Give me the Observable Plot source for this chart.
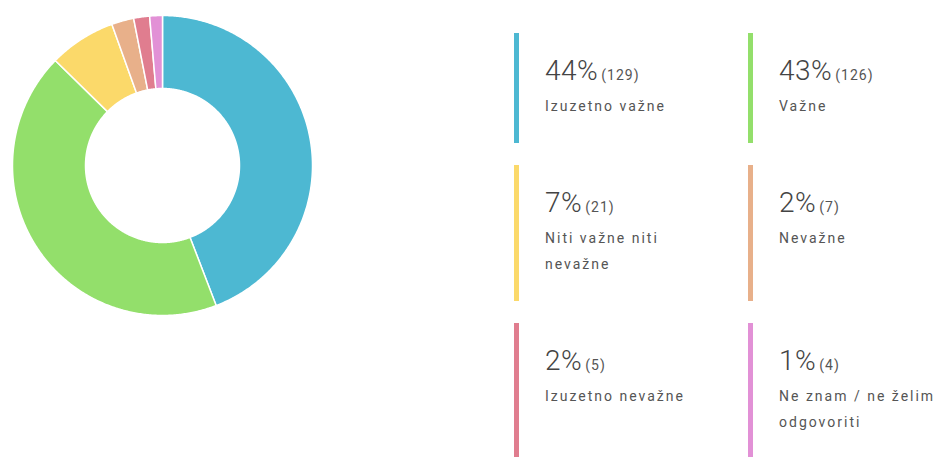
<!DOCTYPE html>
<html>
<head>
<meta charset="utf-8">
<script src="https://cdn.jsdelivr.net/npm/d3@7"></script>
<script src="https://cdn.jsdelivr.net/npm/@observablehq/plot@0.6"></script>
<style>
  html, body { margin: 0; padding: 0; background: #fff; }
  body { width: 940px; height: 457px; position: relative; overflow: hidden; font-family: Roboto, "Noto Sans", sans-serif; }
  #chart { position: absolute; left: 0; top: 0; }
  #legend { position: absolute; left: 514px; top: 33px; display: grid; grid-template-columns: 234px 234px; row-gap: 22px; }
  .item { border-left: 5px solid #ccc; padding: 22px 0 24px 26px; }
  .num { line-height: 32px; height: 32px; color: #444; white-space: nowrap; }
  .pct { font-size: 28px; font-weight: 300; letter-spacing: 0.5px; }
  .cnt { font-size: 14px; color: #555; margin-left: 3px; letter-spacing: 1px; }
  .lab { margin-top: 6px; font-size: 14px; line-height: 26px; color: #555; letter-spacing: 2px; max-width: 168px; }
</style>
</head>
<body>
<div id="chart"></div>
<div id="legend"></div>
<script>
const labels = ["Izuzetno važne", "Važne", "Niti važne niti nevažne", "Nevažne", "Izuzetno nevažne", "Ne znam / ne želim odgovoriti"];
const counts = [129, 126, 21, 7, 5, 4];
const percents = [44, 43, 7, 2, 2, 1];
const colors = ["#4db8d2", "#93df6b", "#fbd96a", "#e8b08a", "#e07d8f", "#e291d6"];

const R = 150, r0 = 77;
const W = 324, H = 330;

const arcs = d3.pie().sort(null).value(d => d)(counts);
const features = arcs.map((a, i) => {
  const n = Math.max(4, Math.ceil((a.endAngle - a.startAngle) / (Math.PI / 360)));
  const ring = [];
  for (let k = 0; k <= n; k++) {
    const t = a.startAngle + (a.endAngle - a.startAngle) * k / n;
    ring.push([R * Math.sin(t), -R * Math.cos(t)]);
  }
  for (let k = n; k >= 0; k--) {
    const t = a.startAngle + (a.endAngle - a.startAngle) * k / n;
    ring.push([r0 * Math.sin(t), -r0 * Math.cos(t)]);
  }
  ring.push(ring[0]);
  return {type: "Feature", properties: {label: labels[i], count: counts[i]}, geometry: {type: "Polygon", coordinates: [ring]}};
});

const frame = {type: "Polygon", coordinates: [[[-W/2, -H/2], [W/2, -H/2], [W/2, H/2], [-W/2, H/2], [-W/2, -H/2]]]};

const plot = Plot.plot({
  width: W,
  height: H,
  margin: 0,
  projection: {type: "identity", domain: frame},
  color: {domain: labels, range: colors},
  marks: [
    Plot.geo(features, {fill: d => d.properties.label, stroke: "white", strokeWidth: 1.5})
  ]
});
document.getElementById("chart").appendChild(plot);

const legend = d3.select("#legend");
labels.forEach((lab, i) => {
  const item = legend.append("div").attr("class", "item").style("border-left-color", colors[i]);
  const num = item.append("div").attr("class", "num");
  num.append("span").attr("class", "pct").text(percents[i] + "%");
  num.append("span").attr("class", "cnt").text("(" + counts[i] + ")");
  item.append("div").attr("class", "lab").text(lab);
});
</script>
</body>
</html>
